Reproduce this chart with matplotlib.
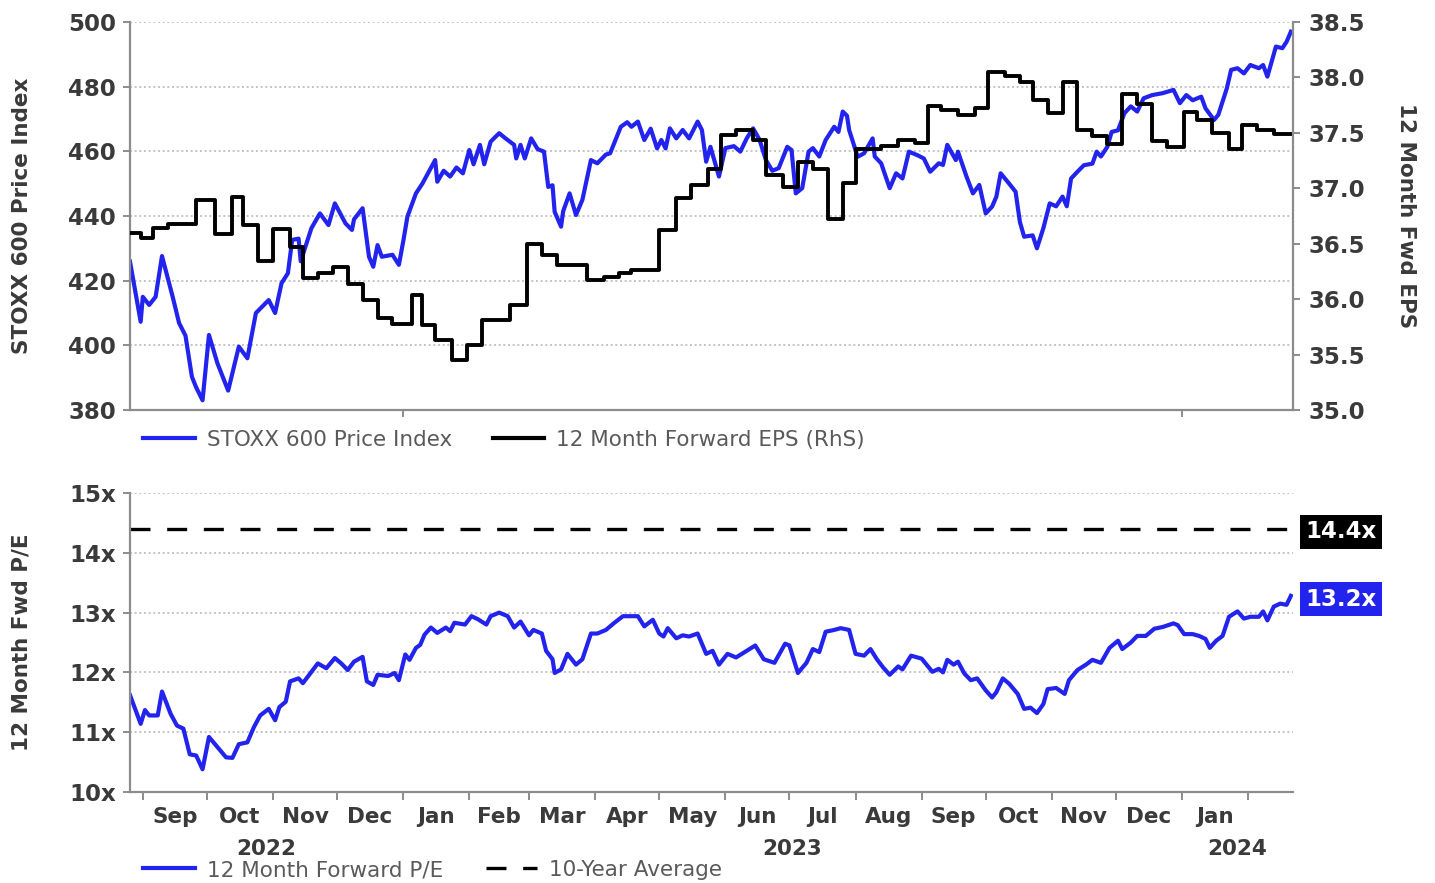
import numpy as np
import pandas as pd
import matplotlib
matplotlib.use("Agg")
import matplotlib.pyplot as plt
import matplotlib.transforms as mtransforms
from matplotlib.lines import Line2D

# -----------------------------
# Data
# -----------------------------

START = pd.Timestamp("2022-08-26")
END_DAY = 545

# STOXX 600 price index, day offset from START
price_day = [
    0, 5, 6, 9, 12, 15, 20, 23, 26, 29,
    31, 34, 37, 41, 46, 51, 55, 59, 65, 68,
    71, 74, 76, 79, 80, 85, 89, 93, 96, 101,
    104, 105, 109, 112, 114, 116, 118, 123, 126, 128,
    130, 134, 137, 143, 144, 147, 150, 153, 156, 159,
    161, 164, 166, 169, 173, 176, 180, 181, 183, 185,
    188, 191, 194, 196, 198, 199, 202, 203, 206, 209,
    212, 216, 219, 223, 225, 230, 233, 235, 238, 241,
    244, 247, 249, 251, 253, 256, 259, 262, 266, 268,
    270, 272, 276, 279, 283, 286, 289, 292, 295, 298,
    301, 304, 308, 310, 312, 315, 318, 320, 323, 326,
    330, 332, 334, 336, 337, 339, 341, 344, 348, 349,
    352, 356, 359, 362, 365, 369, 372, 375, 379, 381,
    383, 387, 388, 392, 395, 398, 401, 404, 406, 408,
    412, 415, 417, 419, 423, 425, 428, 431, 434, 437,
    439, 441, 444, 447, 451, 453, 455, 458, 460, 463,
    466, 469, 472, 475, 479, 484, 489, 492, 495, 498,
    502, 504, 508, 510, 514, 516, 519, 522, 525, 529,
    531, 533, 535, 537, 540, 542, 544,
]
price = [
    425.9, 407.3, 415.0, 412.5, 415.0, 427.6, 415.0, 406.9, 403.0, 390.3,
    387.0, 383.0, 403.2, 394.4, 386.0, 399.6, 396.0, 410.0, 414.0, 410.0,
    419.2, 422.3, 432.6, 433.0, 426.0, 436.2, 440.8, 437.2, 443.9, 437.7,
    435.7, 439.0, 442.4, 427.4, 424.3, 431.0, 427.4, 428.0, 424.9, 432.0,
    439.8, 447.0, 450.0, 457.3, 450.6, 454.0, 452.2, 455.0, 453.2, 460.4,
    456.0, 462.0, 456.0, 463.0, 465.6, 464.0, 462.0, 457.8, 462.0, 457.8,
    464.0, 460.7, 459.9, 449.0, 449.5, 441.3, 436.7, 441.5, 447.0, 440.3,
    445.0, 457.3, 456.3, 459.0, 459.4, 467.6, 469.0, 467.6, 469.2, 463.5,
    467.0, 460.9, 463.5, 460.9, 467.1, 464.0, 466.6, 464.0, 469.2, 466.6,
    456.8, 461.4, 452.2, 461.0, 461.6, 459.9, 464.0, 467.1, 463.6, 457.3,
    454.0, 454.8, 461.4, 460.4, 447.0, 448.6, 459.9, 461.0, 458.4, 463.5,
    467.6, 466.0, 472.3, 471.0, 466.6, 462.5, 458.3, 459.4, 464.0, 458.4,
    456.3, 448.6, 453.2, 451.6, 459.9, 458.8, 457.8, 453.7, 456.3, 455.8,
    462.0, 457.3, 459.9, 452.2, 447.0, 449.6, 440.8, 442.9, 446.0, 453.2,
    450.0, 447.5, 438.2, 433.6, 434.0, 430.0, 436.2, 443.9, 443.0, 446.0,
    443.0, 451.6, 453.7, 455.7, 456.2, 459.9, 458.4, 461.4, 466.0, 466.5,
    471.8, 473.9, 472.3, 476.4, 477.4, 478.0, 479.0, 474.9, 477.4, 475.8,
    476.9, 473.3, 469.7, 471.3, 479.5, 485.2, 485.7, 484.1, 486.7, 485.7,
    486.7, 483.1, 487.7, 492.4, 491.9, 493.9, 497.0,
]

# 12 month forward EPS, step changes (day offset, new level)
eps_day = [
    0, 5, 11, 18, 31, 40, 48, 53, 60, 67,
    75, 81, 88, 95, 102, 109, 116, 123, 132, 137,
    143, 151, 158, 165, 178, 186, 193, 200, 214, 222,
    229, 235, 248, 256, 263, 271, 277, 284, 292, 298,
    306, 313, 320, 327, 334, 340, 352, 360, 368, 374,
    380, 388, 396, 402, 410, 417, 423, 430, 437, 444,
    451, 458, 465, 472, 479, 486, 494, 500, 507, 515,
    521, 528, 536, 545,
]
eps = [
    36.60, 36.55, 36.64, 36.68, 36.89, 36.59, 36.92, 36.67, 36.34, 36.63,
    36.47, 36.19, 36.24, 36.29, 36.14, 35.99, 35.83, 35.78, 36.04, 35.77,
    35.63, 35.45, 35.59, 35.81, 35.95, 36.50, 36.40, 36.31, 36.17, 36.20,
    36.24, 36.26, 36.62, 36.91, 37.03, 37.17, 37.48, 37.53, 37.44, 37.12,
    37.01, 37.24, 37.17, 36.72, 37.05, 37.35, 37.38, 37.44, 37.41, 37.74,
    37.71, 37.66, 37.72, 38.05, 38.01, 37.96, 37.80, 37.68, 37.96, 37.53,
    37.47, 37.40, 37.85, 37.76, 37.43, 37.37, 37.69, 37.62, 37.50, 37.35,
    37.57, 37.53, 37.49, 37.49,
]

# 12 month forward P/E
pe_day = [
    0, 5, 7, 9, 13, 15, 19, 22, 25, 28,
    31, 34, 37, 41, 45, 48, 51, 55, 58, 61,
    65, 68, 70, 73, 75, 79, 81, 84, 88, 92,
    96, 99, 102, 105, 109, 111, 114, 116, 121, 124,
    126, 129, 131, 134, 136, 138, 141, 144, 148, 150,
    152, 157, 160, 163, 167, 169, 173, 177, 180, 183,
    187, 189, 193, 195, 198, 199, 202, 205, 209, 212,
    216, 219, 223, 227, 231, 235, 238, 241, 245, 248,
    250, 252, 256, 259, 262, 266, 270, 273, 276, 280,
    284, 289, 293, 297, 302, 307, 309, 313, 317, 320,
    323, 326, 330, 333, 337, 340, 344, 347, 350, 353,
    356, 360, 362, 366, 369, 371, 376, 379, 381, 383,
    386, 388, 391, 394, 397, 401, 404, 406, 409, 412,
    416, 419, 422, 425, 428, 430, 434, 438, 440, 444,
    448, 451, 455, 459, 463, 465, 469, 472, 476, 480,
    484, 489, 491, 494, 498, 501, 504, 506, 509, 512,
    515, 519, 522, 525, 529, 531, 533, 536, 539, 542,
    544,
]
pe = [
    11.62, 11.14, 11.37, 11.28, 11.28, 11.68, 11.31, 11.11, 11.06, 10.63,
    10.61, 10.38, 10.92, 10.75, 10.58, 10.57, 10.80, 10.83, 11.08, 11.28,
    11.39, 11.20, 11.42, 11.51, 11.85, 11.90, 11.82, 11.96, 12.15, 12.07,
    12.24, 12.15, 12.04, 12.18, 12.26, 11.85, 11.79, 11.96, 11.94, 11.99,
    11.87, 12.30, 12.21, 12.41, 12.46, 12.63, 12.75, 12.66, 12.75, 12.69,
    12.83, 12.80, 12.94, 12.89, 12.80, 12.94, 13.00, 12.94, 12.75, 12.85,
    12.62, 12.71, 12.65, 12.36, 12.22, 11.99, 12.05, 12.31, 12.13, 12.22,
    12.65, 12.65, 12.71, 12.83, 12.94, 12.94, 12.94, 12.77, 12.88, 12.65,
    12.60, 12.74, 12.57, 12.62, 12.60, 12.65, 12.31, 12.36, 12.13, 12.31,
    12.25, 12.36, 12.45, 12.22, 12.16, 12.48, 12.45, 11.99, 12.16, 12.39,
    12.34, 12.68, 12.71, 12.74, 12.71, 12.31, 12.28, 12.39, 12.22, 12.08,
    11.96, 12.10, 12.05, 12.28, 12.25, 12.23, 12.01, 12.06, 12.00, 12.21,
    12.13, 12.18, 11.98, 11.87, 11.90, 11.70, 11.58, 11.67, 11.90, 11.81,
    11.64, 11.39, 11.41, 11.32, 11.47, 11.72, 11.74, 11.64, 11.87, 12.04,
    12.13, 12.21, 12.16, 12.41, 12.53, 12.39, 12.50, 12.61, 12.61, 12.73,
    12.76, 12.82, 12.79, 12.64, 12.64, 12.61, 12.56, 12.41, 12.53, 12.61,
    12.93, 13.02, 12.90, 12.93, 12.93, 13.02, 12.87, 13.10, 13.15, 13.13,
    13.28,
]

pe_10y_avg = 14.4
pe_latest_label = "13.2x"
pe_avg_label = "14.4x"

price_ticks = [380, 400, 420, 440, 460, 480, 500]
eps_ticks = [35.0, 35.5, 36.0, 36.5, 37.0, 37.5, 38.0, 38.5]
pe_ticks = [10, 11, 12, 13, 14, 15]

# -----------------------------
# Style
# -----------------------------

BLUE = "#2323EE"
SPINE = "#8c8c8c"
TEXT = "#3a3a3a"
LEGEND_TEXT = "#5a5a5a"
GRID = "#c4c4c4"
FS = 15.5
FS_TICK = 16.5

W, H = 1435, 883


def to_dates(days):
    return (START + pd.to_timedelta(days, unit="D")).to_pydatetime()


x_start = START.to_pydatetime()
x_end = (START + pd.Timedelta(days=END_DAY)).to_pydatetime()

fig = plt.figure(figsize=(W / 100, H / 100), dpi=100)

ax1 = fig.add_axes([130 / W, 1 - 410 / H, 1163 / W, 388 / H])
ax2 = ax1.twinx()
ax3 = fig.add_axes([130 / W, 1 - 792 / H, 1163 / W, 299 / H])


def style_axis(ax):
    for side in ["top", "right"]:
        ax.spines[side].set_visible(False)
    for side in ["left", "bottom"]:
        ax.spines[side].set_color(SPINE)
        ax.spines[side].set_linewidth(1.6)
    ax.tick_params(axis="both", which="major", color=SPINE, width=1.4,
                   length=5, labelsize=FS_TICK, labelcolor=TEXT, pad=5)
    ax.grid(axis="y", color=GRID, linestyle=(0, (1, 1.4)), linewidth=1.4)
    ax.set_axisbelow(True)
    ax.set_xlim(x_start, x_end)


# -----------------------------
# Top panel: price vs EPS
# -----------------------------

style_axis(ax1)
ax1.plot(to_dates(price_day), price, color=BLUE, lw=3.0,
         solid_joinstyle="round")
ax1.set_ylim(380, 500)
ax1.set_yticks(price_ticks)
ax1.set_xticks([pd.Timestamp("2023-01-01").to_pydatetime(),
                pd.Timestamp("2024-01-01").to_pydatetime()])
ax1.set_xticklabels([])

ax2.step(to_dates(eps_day), eps, where="post", color="black", lw=2.8)
ax2.set_ylim(35.0, 38.5)
ax2.set_yticks(eps_ticks)
ax2.set_yticklabels([f"{v:.1f}" for v in eps_ticks])
ax2.set_xlim(x_start, x_end)
for side in ["top", "left", "bottom"]:
    ax2.spines[side].set_visible(False)
ax2.spines["right"].set_color(SPINE)
ax2.spines["right"].set_linewidth(1.6)
ax2.tick_params(axis="y", color=SPINE, width=1.4, length=5,
                labelsize=FS_TICK, labelcolor=TEXT, pad=6)

for lbl in ax1.get_yticklabels() + ax2.get_yticklabels():
    lbl.set_fontweight("bold")

# -----------------------------
# Bottom panel: forward P/E
# -----------------------------

style_axis(ax3)
ax3.plot(to_dates(pe_day), pe, color=BLUE, lw=3.0, solid_joinstyle="round")
ax3.axhline(pe_10y_avg, color="black", lw=2.4, dashes=(6, 5))
ax3.set_ylim(10, 15)
ax3.set_yticks(pe_ticks)
ax3.set_yticklabels([f"{v}x" for v in pe_ticks])

month_starts = pd.date_range("2022-09-01", "2024-02-01", freq="MS")
ax3.set_xticks(month_starts.to_pydatetime())
ax3.set_xticklabels([])
ax3.tick_params(axis="x", which="major", length=6)

centers = [m + (n - m) / 2 for m, n in zip(month_starts[:-1], month_starts[1:])]
ax3.set_xticks([c.to_pydatetime() for c in centers],
               labels=[m.strftime("%b") for m in month_starts[:-1]],
               minor=True)
ax3.tick_params(axis="x", which="minor", length=0, pad=11,
                labelsize=FS, labelcolor=TEXT)

for lbl in ax3.get_yticklabels() + ax3.get_xticklabels(minor=True):
    lbl.set_fontweight("bold")

# year labels centred under each year's span
bounds = [START, pd.Timestamp("2023-01-01"), pd.Timestamp("2024-01-01"),
          START + pd.Timedelta(days=END_DAY)]
trans = mtransforms.blended_transform_factory(ax3.transData, ax3.transAxes)
for a, b in zip(bounds[:-1], bounds[1:]):
    mid = a + (b - a) / 2
    ax3.text(mid.to_pydatetime(), -0.19, str(a.year),
             transform=trans, ha="center", va="center", fontsize=FS,
             fontweight="bold", color=TEXT)

# value tags on the right
tag_trans = mtransforms.blended_transform_factory(ax3.transAxes, ax3.transData)
ax3.text(1.0105, pe_10y_avg - 0.05, pe_avg_label, transform=tag_trans,
         ha="left", va="center", fontsize=16.5, fontweight="bold",
         color="white",
         bbox=dict(boxstyle="square,pad=0.24", fc="black", ec="none"))
ax3.text(1.0105, pe[-1] - 0.06, pe_latest_label, transform=tag_trans,
         ha="left", va="center", fontsize=16.5, fontweight="bold",
         color="white",
         bbox=dict(boxstyle="square,pad=0.24", fc=BLUE, ec="none"))

# -----------------------------
# Axis titles and legends
# -----------------------------

fig.text(22 / W, 1 - 216 / H, "STOXX 600 Price Index", rotation=90,
         ha="center", va="center", fontsize=FS, fontweight="bold", color=TEXT)
fig.text(1406 / W, 1 - 216 / H, "12 Month Fwd EPS", rotation=270,
         ha="center", va="center", fontsize=FS, fontweight="bold", color=TEXT)
fig.text(22 / W, 1 - 642 / H, "12 Month Fwd P/E", rotation=90,
         ha="center", va="center", fontsize=FS, fontweight="bold", color=TEXT)

top_handles = [Line2D([], [], color=BLUE, lw=3.0),
               Line2D([], [], color="black", lw=3.0)]
fig.legend(top_handles, ["STOXX 600 Price Index", "12 Month Forward EPS (RhS)"],
           loc="center left", bbox_to_anchor=(143 / W, 1 - 440 / H), ncol=2,
           frameon=False, fontsize=FS, handlelength=2.4, handletextpad=0.55,
           columnspacing=1.9, borderpad=0, borderaxespad=0,
           labelcolor=LEGEND_TEXT)

bottom_handles = [Line2D([], [], color=BLUE, lw=3.0),
                  Line2D([], [], color="black", lw=2.4, dashes=(6, 5))]
fig.legend(bottom_handles, ["12 Month Forward P/E", "10-Year Average"],
           loc="center left", bbox_to_anchor=(143 / W, 1 - 870 / H), ncol=2,
           frameon=False, fontsize=FS, handlelength=2.4, handletextpad=0.55,
           columnspacing=2.0, borderpad=0, borderaxespad=0,
           labelcolor=LEGEND_TEXT)

fig.savefig("out.png", dpi=100)
